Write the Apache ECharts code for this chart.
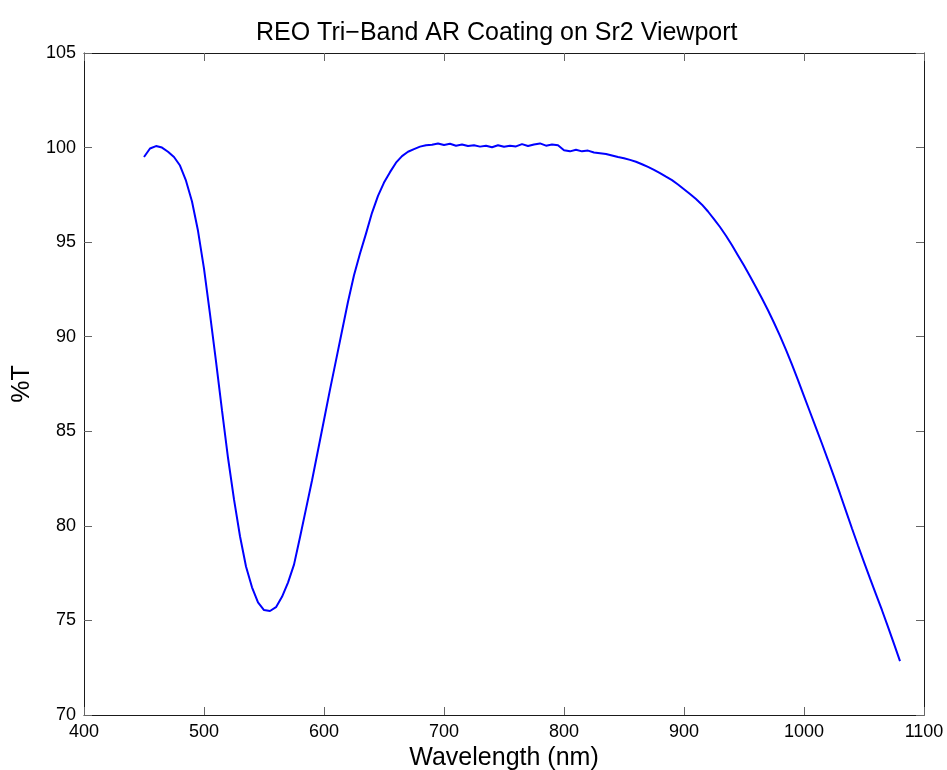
<!DOCTYPE html>
<html>
<head>
<meta charset="utf-8">
<script src="https://cdn.jsdelivr.net/npm/echarts@6/dist/echarts.min.js"></script>
<style>
  html, body { margin: 0; padding: 0; background: #fff; }
  #main { width: 947px; height: 770px; }
</style>
</head>
<body>
<div id="main"></div>
<script>
// wavelength (nm)
const wavelength = [
  450, 455, 460, 465, 470, 475, 480, 485, 490, 495,
  500, 505, 510, 515, 520, 525, 530, 535, 540, 545,
  550, 555, 560, 565, 570, 575, 580, 585, 590, 595,
  600, 605, 610, 615, 620, 625, 630, 635, 640, 645,
  650, 655, 660, 665, 670, 675, 680, 685, 690, 695,
  700, 705, 710, 715, 720, 725, 730, 735, 740, 745,
  750, 755, 760, 765, 770, 775, 780, 785, 790, 795,
  800, 805, 810, 815, 820, 825, 830, 835, 840, 845,
  850, 855, 860, 865, 870, 875, 880, 885, 890, 895,
  900, 905, 910, 915, 920, 925, 930, 935, 940, 945,
  950, 955, 960, 965, 970, 975, 980, 985, 990, 995,
  1000, 1005, 1010, 1015, 1020, 1025, 1030, 1035, 1040, 1045,
  1050, 1055, 1060, 1065, 1070, 1075, 1080
];

// %T
const transmission = [
  99.50, 99.95, 100.08, 100.00, 99.78, 99.50, 99.05, 98.25, 97.15, 95.60,
  93.60, 91.20, 88.70, 86.10, 83.60, 81.40, 79.45, 77.85, 76.75, 75.95,
  75.55, 75.50, 75.70, 76.25, 77.00, 77.95, 79.40, 80.90, 82.40, 84.00,
  85.60, 87.20, 88.75, 90.30, 91.85, 93.25, 94.40, 95.45, 96.55, 97.45,
  98.15, 98.70, 99.20, 99.55, 99.78, 99.92, 100.05, 100.12, 100.15, 100.22,
  100.14, 100.20, 100.10, 100.16, 100.08, 100.12, 100.05, 100.10, 100.02, 100.12,
  100.04, 100.10, 100.06, 100.18, 100.08, 100.16, 100.22, 100.10, 100.16, 100.12,
  99.86, 99.80, 99.88, 99.80, 99.84, 99.74, 99.70, 99.66, 99.58, 99.50,
  99.44, 99.35, 99.25, 99.12, 98.98, 98.82, 98.65, 98.46, 98.28, 98.05,
  97.80, 97.55, 97.28, 96.98, 96.62, 96.22, 95.80, 95.34, 94.84, 94.30,
  93.76, 93.20, 92.62, 92.02, 91.40, 90.74, 90.04, 89.30, 88.52, 87.70,
  86.86, 86.02, 85.18, 84.34, 83.48, 82.60, 81.70, 80.78, 79.86, 78.96,
  78.08, 77.22, 76.38, 75.54, 74.66, 73.76, 72.85
];

const xTicks = [400, 500, 600, 700, 800, 900, 1000, 1100];
const yTicks = [70, 75, 80, 85, 90, 95, 100, 105];

const FONT = "'Liberation Sans', Arial, Helvetica, sans-serif";

const points = wavelength.map((w, i) => [w, transmission[i]]);

// shared box axis style (ticks inside on all four sides)
const boxAxis = (extra) => Object.assign({
  type: 'value',
  axisLine: { show: true, onZero: false, lineStyle: { color: '#1a1a1a', width: 1 } },
  axisTick: { show: true, inside: true, length: 8, lineStyle: { color: '#666', width: 1 } },
  splitLine: { show: false },
  axisLabel: { show: false }
}, extra);

const tickLabel = {
  show: true, margin: 8, fontFamily: FONT, fontSize: 18, color: '#000',
  formatter: (v) => String(v)
};

const option = {
  animation: false,
  backgroundColor: '#fff',
  title: {
    text: 'REO Tri\u2212Band AR Coating on Sr2 Viewport',
    left: 251,
    top: 16,
    textStyle: { fontFamily: FONT, fontSize: 25, fontWeight: 'normal', color: '#000' }
  },
  grid: {
    left: 84, right: 23, top: 53, bottom: 55,
    containLabel: false,
    outerBoundsMode: 'none'
  },
  xAxis: [
    boxAxis({
      position: 'bottom',
      min: xTicks[0], max: xTicks[xTicks.length - 1], interval: 100,
      name: 'Wavelength (nm)',
      nameLocation: 'middle',
      nameGap: 28,
      nameTextStyle: { fontFamily: FONT, fontSize: 25, color: '#000' },
      axisLabel: tickLabel
    }),
    boxAxis({ position: 'top', min: xTicks[0], max: xTicks[xTicks.length - 1], interval: 100 })
  ],
  yAxis: [
    boxAxis({
      position: 'left',
      min: yTicks[0], max: yTicks[yTicks.length - 1], interval: 5,
      name: '%T',
      nameLocation: 'middle',
      nameGap: 46,
      nameTextStyle: { fontFamily: FONT, fontSize: 25, color: '#000' },
      axisLabel: tickLabel
    }),
    boxAxis({ position: 'right', min: yTicks[0], max: yTicks[yTicks.length - 1], interval: 5 })
  ],
  series: [
    {
      type: 'line',
      data: points,
      showSymbol: false,
      smooth: false,
      lineStyle: { color: '#0000ff', width: 2 },
      itemStyle: { color: '#0000ff' }
    }
  ]
};

const chart = echarts.init(document.getElementById('main'));
chart.setOption(option);
</script>
</body>
</html>
